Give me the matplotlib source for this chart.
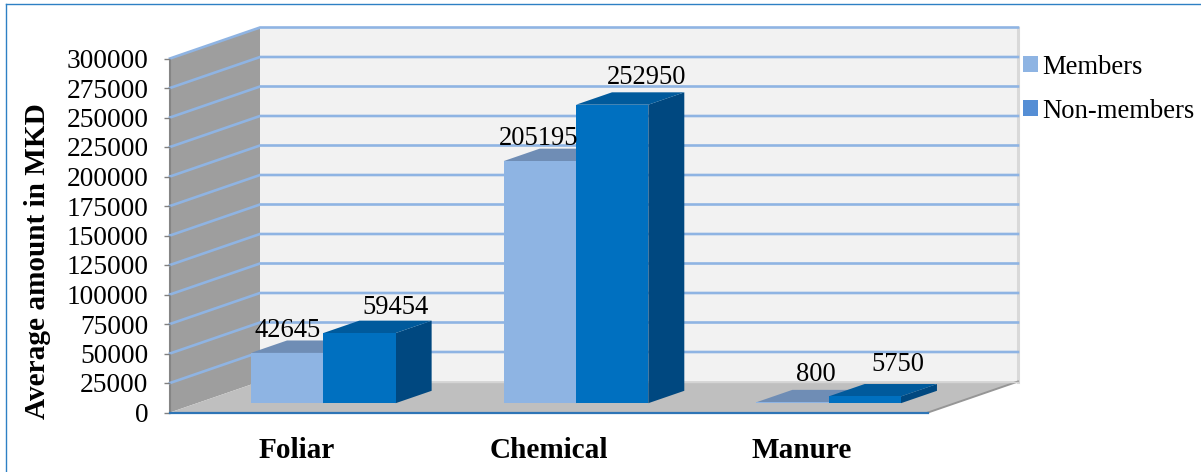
import matplotlib
matplotlib.use("Agg")
import matplotlib.pyplot as plt
from matplotlib.lines import Line2D
from matplotlib.patches import Patch, Polygon

plt.rcParams["font.family"] = ["Liberation Serif", "DejaVu Serif"]

categories = ["Foliar", "Chemical", "Manure"]
series_names = ["Members", "Non-members"]
members = [42645, 205195, 800]
non_members = [59454, 252950, 5750]
y_ticks = list(range(0, 300001, 25000))

# Label offsets from the centre of each bar's front top edge, in pixels
label_dx = [[0, -1, 23], [36, 34, 33]]
label_dy = [[16, 16.5, 21], [19.5, 21, 25]]

W, H = 1201, 472
LEFT_PX, RIGHT_PX, BOTTOM_PX, TOP_PX = 170, 1018, 412.5, 27.5
CAT_PX = 252.67
DEPTH_DX_PX, DEPTH_DY_PX = 90, 31
Y_SCALE = 354 / 300000  # pixels per MKD

depth_x = DEPTH_DX_PX / CAT_PX
depth_y = DEPTH_DY_PX / Y_SCALE
x0, x1 = -0.5, 2.5
y_top = 300000
bar_w = 72.3 / CAT_PX
bar_d0, bar_d1 = 0.30, 0.70

WALL_BACK = "#F2F2F2"
WALL_SIDE = "#9E9E9E"
WALL_SIDE_EDGE = "#858585"
FLOOR = "#BFBFBF"
GRID = "#8FB4E3"
AXIS_BLUE = "#2E75B6"
FRAME = "#2E80C4"
SHADES = [
    {"front": "#8EB4E3", "top": "#6F8DB5", "side": "#6A87AC"},
    {"front": "#0070C0", "top": "#005A9C", "side": "#004880"},
]
LEGEND_COLORS = ["#8EB4E3", "#558ED5"]


def proj(x, y, d):
    """Oblique projection: d runs from the front plane (0) to the back wall (1)."""
    return (x + depth_x * d, y + depth_y * d)


fig = plt.figure(figsize=(W / 100, H / 100), dpi=100, facecolor="white")
ax = fig.add_axes([
    LEFT_PX / W,
    (H - BOTTOM_PX) / H,
    (RIGHT_PX - LEFT_PX) / W,
    (BOTTOM_PX - TOP_PX) / H,
])
ax.set_xlim(x0, x1 + depth_x)
ax.set_ylim(0, y_top + depth_y)
ax.patch.set_visible(False)
for spine in ax.spines.values():
    spine.set_visible(False)


def face(points, color, z, edge="none", lw=0):
    ax.add_patch(Polygon(points, closed=True, facecolor=color, edgecolor=edge,
                         linewidth=lw, zorder=z, clip_on=False))


# Walls and floor
face([proj(x0, 0, 1), proj(x1, 0, 1), proj(x1, y_top, 1), proj(x0, y_top, 1)], WALL_BACK, 1)
face([proj(x0, 0, 0), proj(x0, 0, 1), proj(x0, y_top, 1), proj(x0, y_top, 0)], WALL_SIDE, 1.1)
face([proj(x0, 0, 0), proj(x1, 0, 0), proj(x1, 0, 1), proj(x0, 0, 1)], FLOOR, 1.2)

# Shaded edges of the box
ax.plot(*zip(proj(x0, 0, 0), proj(x0, y_top, 0)), color=WALL_SIDE_EDGE, lw=1.5, zorder=1.3, clip_on=False)
ax.plot(*zip(proj(x1, 0, 1), proj(x1, y_top, 1)), color="#D9D9D9", lw=2.2, zorder=1.3, clip_on=False)
ax.plot(*zip(proj(x1, 0, 0), proj(x1, 0, 1)), color="#969696", lw=1.4, zorder=1.3, clip_on=False)
ax.plot(*zip(proj(x0, 0, 1), proj(x1, 0, 1)), color="#D4D4D4", lw=1.0, zorder=1.3, clip_on=False)

# Gridlines run along the side wall and across the back wall
for tick in y_ticks[1:]:
    pts = [proj(x0, tick, 0), proj(x0, tick, 1), proj(x1, tick, 1)]
    ax.plot(*zip(*pts), color=GRID, lw=1.9, zorder=1.5, clip_on=False,
            solid_joinstyle="miter")
ax.plot(*zip(proj(x0, 0, 0), proj(x1, 0, 0)), color=AXIS_BLUE, lw=1.6, zorder=1.6, clip_on=False)

# Bars, left to right so the nearer faces overlap correctly
for c in range(len(categories)):
    for s, values in enumerate([members, non_members]):
        v = values[c]
        xa = c - bar_w + s * bar_w
        xb = xa + bar_w
        z = 2 + c + 0.1 * s
        shade = SHADES[s]
        face([proj(xb, 0, bar_d0), proj(xb, 0, bar_d1), proj(xb, v, bar_d1), proj(xb, v, bar_d0)],
             shade["side"], z)
        face([proj(xa, v, bar_d0), proj(xb, v, bar_d0), proj(xb, v, bar_d1), proj(xa, v, bar_d1)],
             shade["top"], z + 0.01)
        face([proj(xa, 0, bar_d0), proj(xb, 0, bar_d0), proj(xb, v, bar_d0), proj(xa, v, bar_d0)],
             shade["front"], z + 0.02)
        ax.annotate(str(v), xy=proj((xa + xb) / 2, v, bar_d0),
                    xytext=(label_dx[s][c], label_dy[s][c]), textcoords="offset pixels",
                    ha="center", va="baseline", fontsize=19.1, color="black", zorder=10,
                    annotation_clip=False)

# Axes furniture
ax.set_yticks(y_ticks)
ax.set_yticklabels([str(t) for t in y_ticks], fontsize=19.7)
ax.tick_params(axis="y", length=4.6, width=1.0, color="#808080", pad=15 * 0.72)
ax.set_xticks(range(len(categories)))
ax.set_xticklabels(categories, fontsize=21.1, fontweight="bold")
ax.tick_params(axis="x", length=0, pad=17.5)
ax.set_ylabel("Average amount in MKD", fontsize=21.1, fontweight="bold")
ax.yaxis.set_label_coords((51 - LEFT_PX) / (RIGHT_PX - LEFT_PX), (BOTTOM_PX - 261) / (BOTTOM_PX - TOP_PX))

# Legend
handles = [Patch(facecolor=col, edgecolor="none") for col in LEGEND_COLORS]
fig.legend(handles, series_names, loc="upper left", bbox_to_anchor=(1018 / W, 1 - 49.5 / H),
           frameon=False, fontsize=19.2, handlelength=0.54, handleheight=0.54,
           handletextpad=0.17, labelspacing=0.71, borderpad=0.2, borderaxespad=0)

# Chart frame along the top and left
fig.add_artist(Line2D([6 / W, 1], [1 - 4 / H, 1 - 4 / H], color=FRAME, lw=1.0))
fig.add_artist(Line2D([6 / W, 6 / W], [0, 1 - 4 / H], color=FRAME, lw=1.0))

fig.savefig("out.png", dpi=100, facecolor="white")
